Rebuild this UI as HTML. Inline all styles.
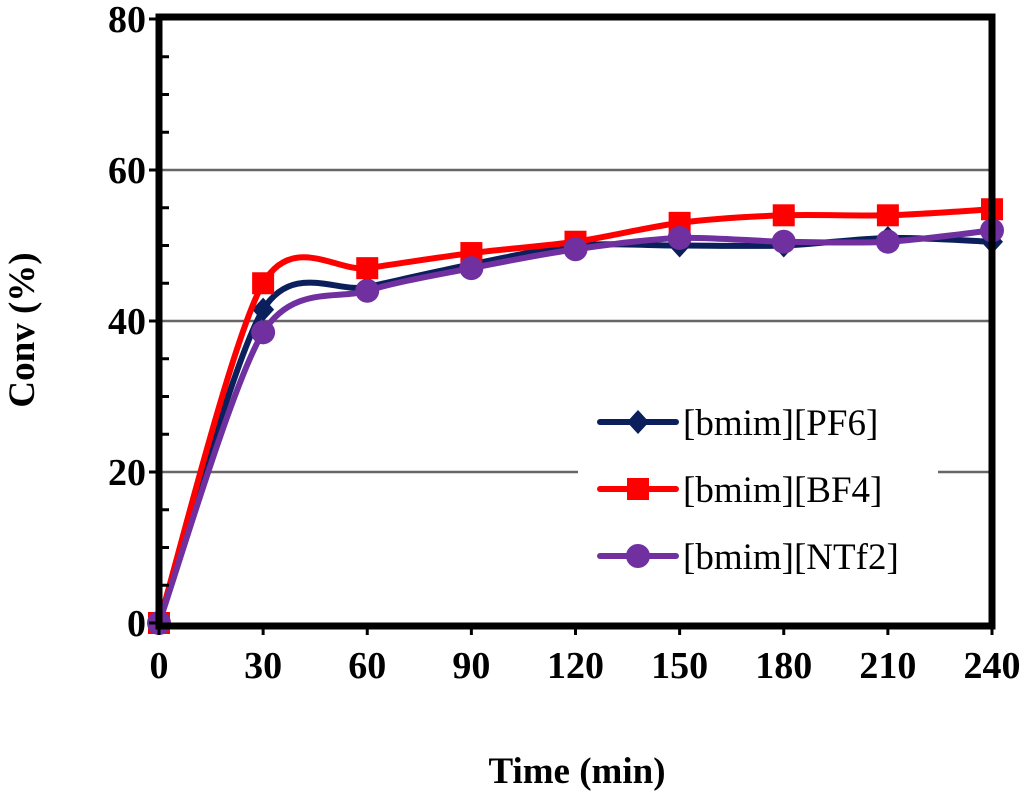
<!DOCTYPE html>
<html><head><meta charset="utf-8"><style>
body{margin:0;background:#fff}
svg{display:block}
text{font-family:"Liberation Serif",serif}
</style></head><body>
<svg id="chart" width="1024" height="792" viewBox="0 0 1024 792" xmlns="http://www.w3.org/2000/svg">
<g id="grid"></g>
<g id="series"></g>
<rect x="578" y="395" width="360" height="200" fill="#fff"/>
<g id="axes"></g>
<g id="legend"></g>
<text transform="translate(34,330) rotate(-90)" text-anchor="middle" font-size="37" font-weight="bold">Conv (%)</text>
<text x="577" y="783" text-anchor="middle" font-size="37" font-weight="bold">Time (min)</text>
</svg>
<script>
const times=[0,30,60,90,120,150,180,210,240];
const pf6=[0,41.5,44.5,47.5,50,50,50,51,50.5];
const bf4=[0,45,47,49,50.5,53,54,54,54.8];
const ntf2=[0,38.5,44,47,49.5,51,50.5,50.5,52];
const yTicks=[0,20,40,60,80];
const xTicks=[0,30,60,90,120,150,180,210,240];
const seriesNames=["[bmim][PF6]","[bmim][BF4]","[bmim][NTf2]"];
const NS="http://www.w3.org/2000/svg";
const L=159,R=992,T=19,B=623;
const sx=v=>L+(v-0)/240*(R-L);
const sy=v=>B-(v/80)*(B-T);
function mk(tag,attrs,parent){const e=document.createElementNS(NS,tag);for(const k in attrs)e.setAttribute(k,attrs[k]);parent.appendChild(e);return e;}
const grid=document.getElementById('grid'),axes=document.getElementById('axes'),ser=document.getElementById('series'),leg=document.getElementById('legend');
yTicks.forEach(v=>{
 if(v>0&&v<80){const g=mk('line',{x1:L,x2:R,y1:sy(v),y2:sy(v),stroke:'#666','stroke-width':2.5},grid);
 
 }
 const t=mk('line',{x1:L-10,x2:L,y1:sy(v),y2:sy(v),stroke:'#000','stroke-width':3},axes);
 
 
 const lb=mk('text',{x:L-13,y:sy(v)+13,'text-anchor':'end','font-size':38,'font-weight':'bold'},axes);lb.textContent=v;
 
 
});
for(let v=5;v<80;v+=5){if(v%20===0)continue;
 const m=mk('line',{x1:L,x2:L+10,y1:sy(v),y2:sy(v),stroke:'#000','stroke-width':3},axes);
 
 }
xTicks.forEach(v=>{
 const t=mk('line',{x1:sx(v),x2:sx(v),y1:B,y2:B+12,stroke:'#000','stroke-width':3},axes);
 
 
 const lb=mk('text',{x:sx(v),y:B+55,'text-anchor':'middle','font-size':38,'font-weight':'bold'},axes);lb.textContent=v;
 
 
});
const fr=mk('rect',{x:L,y:T-2,width:R-L,height:B-T+5,fill:'none',stroke:'#000','stroke-width':7},axes);


function smooth(pts){let d='M'+pts[0][0]+','+pts[0][1];const k=7;
 for(let i=0;i<pts.length-1;i++){const p0=pts[i-1]||pts[i],p1=pts[i],p2=pts[i+1],p3=pts[i+2]||p2;
  const c1=[p1[0]+(p2[0]-p0[0])/k,p1[1]+(p2[1]-p0[1])/k],c2=[p2[0]-(p3[0]-p1[0])/k,p2[1]-(p3[1]-p1[1])/k];
  d+=' C'+c1+' '+c2+' '+p2;}return d;}
function marker(type,x,y,color,parent){
 let e;
 if(type==='diamond')e=mk('polygon',{points:`${x},${y-12} ${x+11},${y} ${x},${y+12} ${x-11},${y}`,fill:color},parent);
 else if(type==='square')e=mk('rect',{x:x-11,y:y-11,width:22,height:22,fill:color},parent);
 else e=mk('circle',{cx:x,cy:y,r:12,fill:color},parent);
 return e;}
const defs=[[pf6,'#0a1f5c','diamond','pf6'],[bf4,'#ff0000','square','bf4'],[ntf2,'#7030a0','circle','ntf2']];
defs.forEach(([vals,color,type,nm],si)=>{
 const pts=vals.map((v,i)=>[sx(times[i]),sy(v)]);
 const p=mk('path',{d:smooth(pts),fill:'none',stroke:color,'stroke-width':6},ser);
 
 
 pts.forEach(q=>{const m=marker(type,q[0],q[1],color,ser);
  
  });
 const ly=422+si*67;
 const ll=mk('line',{x1:600,x2:676,y1:ly,y2:ly,stroke:color,'stroke-width':6,'stroke-linecap':'round'},leg);
 
 
 const lm=marker(type,638,ly,color,leg);
 
 
 const lt=mk('text',{x:683,y:ly+13,'font-size':37},leg);lt.textContent=seriesNames[si];
 
 
});
</script>
</body></html>
